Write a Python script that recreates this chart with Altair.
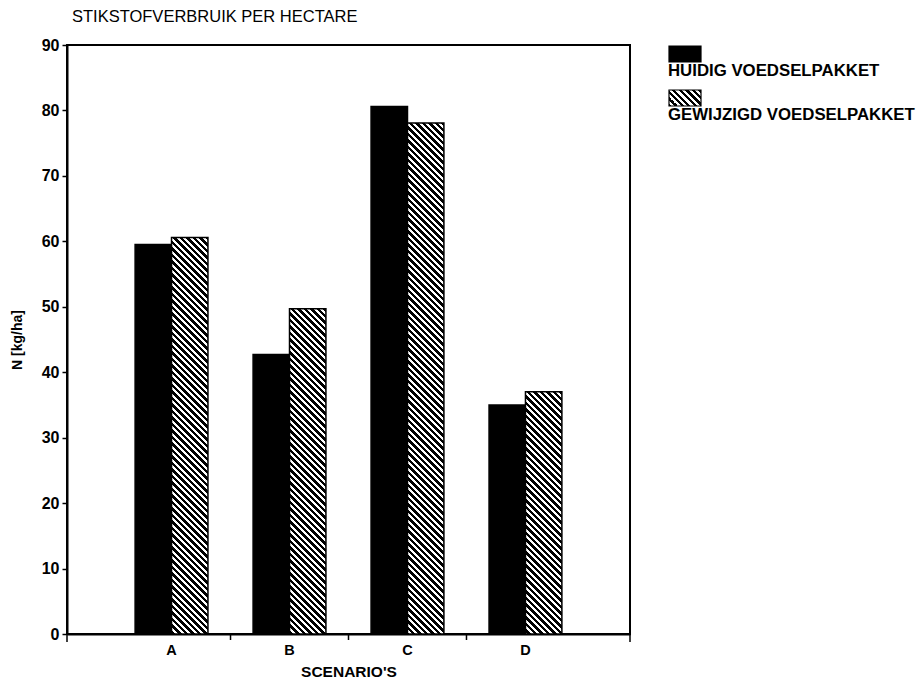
import altair as alt

# ---- data ----
scenarios = ["A", "B", "C", "D"]
series = ["HUIDIG VOEDSELPAKKET", "GEWIJZIGD VOEDSELPAKKET"]
huidig = [59.5, 42.7, 80.6, 35.0]
gewijzigd = [60.6, 49.7, 78.1, 37.0]
y_ticks = [0, 10, 20, 30, 40, 50, 60, 70, 80, 90]

# ---- layout / style ----
W, H = 563, 589
Y_MAX = 90
PAD_OUTER = 0.386
OFF_PAD = 0.62
FONT = "Liberation Sans"

step = W / (len(scenarios) + 2 * PAD_OUTER)
bar_w = step / (len(series) + 2 * OFF_PAD)


def hatch(w, h, period=6.5, frac=0.5):
    """Diagonal '\\' hatching drawn as a hard-stop linear gradient in bbox units."""
    total = w + h
    stops = []
    s = 0.0
    while s < total:
        a = s / total
        b = min(s + period * frac, total) / total
        c = min(s + period, total) / total
        stops += [
            {"offset": round(a, 5), "color": "black"},
            {"offset": round(b, 5), "color": "black"},
            {"offset": round(b, 5), "color": "white"},
            {"offset": round(c, 5), "color": "white"},
        ]
        s += period
    m = (w + h) / (w * w + h * h)
    return {"gradient": "linear", "x1": 1, "y1": 0,
            "x2": 1 - w * m, "y2": h * m, "stops": stops}


records = []
for i, sc in enumerate(scenarios):
    records.append({"scenario": sc, "series": series[0], "value": huidig[i],
                    "fill": "black"})
    records.append({"scenario": sc, "series": series[1], "value": gewijzigd[i],
                    "fill": hatch(bar_w, gewijzigd[i] * H / Y_MAX)})

x_enc = alt.X("scenario:N", sort=scenarios,
              scale=alt.Scale(paddingInner=0, paddingOuter=PAD_OUTER),
              axis=alt.Axis(title="SCENARIO'S", labelAngle=0, ticks=False,
                            labelPadding=9, titlePadding=8,
                            labelFontSize=14.5, titleFontSize=15.5,
                            labelFontWeight="bold", titleFontWeight="bold"))

bars = alt.Chart(alt.Data(values=records)).mark_bar(
    stroke="black", strokeWidth=1.5
).encode(
    x=x_enc,
    xOffset=alt.XOffset("series:N", sort=series,
                        scale=alt.Scale(paddingInner=0, paddingOuter=OFF_PAD)),
    y=alt.Y("value:Q", scale=alt.Scale(domain=[0, Y_MAX], nice=False),
            axis=alt.Axis(values=y_ticks, title="N [kg/ha]", grid=False,
                          tickSize=5, labelPadding=3, titlePadding=17,
                          labelFontSize=16, titleFontSize=14,
                          labelFontWeight="bold", titleFontWeight="bold")),
    fill=alt.Fill("fill:N", scale=None, legend=None),
)

# tick marks at the boundaries between scenarios
ticks = alt.Chart(alt.Data(values=[{"scenario": s} for s in scenarios[1:]])).mark_rule(
    color="black", strokeWidth=1.5
).encode(
    x=alt.X("scenario:N", sort=scenarios, bandPosition=0),
    y=alt.value(H), y2=alt.value(H + 6),
)
end_ticks = [
    alt.Chart(alt.Data(values=[{"k": 0}])).mark_rule(color="black", strokeWidth=1.5)
    .encode(x=alt.value(px), y=alt.value(H), y2=alt.value(H + 8))
    for px in (0, W)
]

# hand-made legend (swatch above label)
legend_layers = []
for i, s in enumerate(series):
    top = 1 + i * 44
    fill = "black" if i == 0 else hatch(32, 16)
    legend_layers.append(
        alt.Chart(alt.Data(values=[{"label": s}])).mark_rect(
            fill=fill, stroke="black", strokeWidth=1.2
        ).encode(x=alt.value(W + 39), x2=alt.value(W + 71),
                 y=alt.value(top), y2=alt.value(top + 16))
    )
    legend_layers.append(
        alt.Chart(alt.Data(values=[{"label": s}])).mark_text(
            align="left", baseline="middle", fontSize=16.8, fontWeight="bold",
            font=FONT, color="black"
        ).encode(x=alt.value(W + 38), y=alt.value(top + 25), text="label:N")
    )

chart = alt.layer(bars, ticks, *end_ticks, *legend_layers).properties(
    width=W, height=H,
    background="white",
    title=alt.TitleParams("STIKSTOFVERBRUIK PER HECTARE", anchor="start",
                          frame="group", fontSize=16.5, fontWeight="normal",
                          font=FONT, color="black", offset=12, dx=5),
    autosize=alt.AutoSizeParams(type="none"),
    padding={"left": 59, "top": 37, "right": 286, "bottom": 48},
).configure_view(
    stroke="black", strokeWidth=2
).configure_axis(
    domainColor="black", domainWidth=2, tickColor="black", tickWidth=1.5,
    labelColor="black", titleColor="black", labelFont=FONT, titleFont=FONT,
)

chart.save("out.html", embed_options={"renderer": "svg", "actions": False})
